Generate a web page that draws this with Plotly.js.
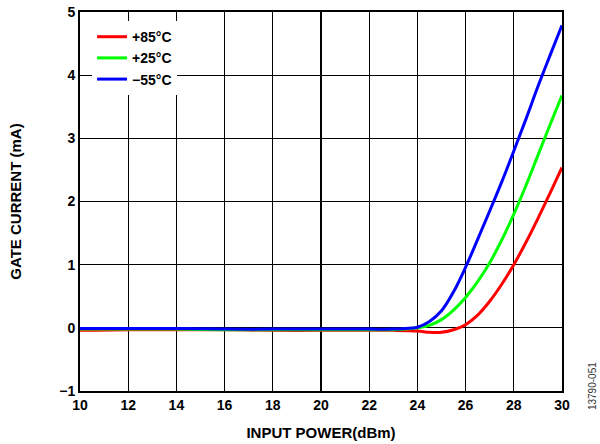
<!DOCTYPE html>
<html>
<head>
<meta charset="utf-8">
<script src="https://cdn.plot.ly/plotly-3.0.1.min.js"></script>
<style>html,body{margin:0;padding:0;background:#fff}#chart{width:600px;height:444px}</style>
</head>
<body>
<div id="chart"></div>
<script>
// Input power (dBm)
const powerRed   = [10, 12, 14, 16, 18, 20, 22, 23, 24, 24.5, 25, 25.5, 26, 26.5, 27, 27.5, 28, 28.5, 29, 29.5, 30];
const current85  = [-0.04, -0.03, -0.03, -0.03, -0.04, -0.04, -0.04, -0.04, -0.05, -0.07, -0.07, -0.03, 0.05, 0.2, 0.42, 0.69, 1.0, 1.35, 1.73, 2.13, 2.54];

const powerGreen = [10, 12, 14, 16, 18, 20, 22, 23, 23.5, 24, 24.5, 25, 25.5, 26, 26.5, 27, 27.5, 28, 28.5, 29, 29.5, 30];
const current25  = [-0.02, -0.02, -0.02, -0.03, -0.03, -0.03, -0.03, -0.03, -0.02, 0.0, 0.04, 0.13, 0.28, 0.48, 0.73, 1.03, 1.39, 1.8, 2.25, 2.73, 3.21, 3.68];

const powerBlue  = [10, 12, 14, 16, 18, 20, 22, 23, 23.5, 24, 24.5, 25, 25.5, 26, 26.5, 27, 27.5, 28, 28.5, 29, 29.5, 30];
const currentM55 = [-0.01, -0.01, -0.01, -0.02, -0.02, -0.02, -0.02, -0.02, -0.01, 0.01, 0.1, 0.27, 0.57, 0.96, 1.4, 1.85, 2.31, 2.8, 3.3, 3.82, 4.31, 4.79];

const seriesNames = ['+85°C', '+25°C', '\u221255°C'];
const seriesColors = ['#ff0000', '#00ff00', '#0000ff'];

const xTicks = [10, 12, 14, 16, 18, 20, 22, 24, 26, 28, 30];
const yTicks = [-1, 0, 1, 2, 3, 4, 5];

const FONT = 'Liberation Sans, Arial, Helvetica, sans-serif';

const xs = [powerRed, powerGreen, powerBlue];
const ys = [current85, current25, currentM55];
const traces = xs.map((x, i) => ({
  x: x, y: ys[i], name: seriesNames[i], type: 'scatter', mode: 'lines',
  line: {color: seriesColors[i], width: 3, shape: 'spline', smoothing: 1}
}));

const layout = {
  width: 600, height: 444,
  margin: {l: 80, r: 38, t: 12, b: 53},
  paper_bgcolor: '#fff', plot_bgcolor: '#fff',
  font: {family: FONT, size: 14, color: '#000', weight: 'bold'},
  showlegend: true,
  legend: {
    x: 0.025, y: 0.976, xanchor: 'left', yanchor: 'top',
    bgcolor: '#fff', borderwidth: 0,
    font: {family: FONT, size: 14, color: '#000', weight: 'bold'},
    tracegroupgap: 0, itemwidth: 30
  },
  xaxis: {
    range: [10, 30], tickvals: xTicks, ticktext: xTicks.map(String),
    showgrid: true, gridcolor: '#000', gridwidth: 1.2,
    zeroline: false, showline: true, linecolor: '#000', linewidth: 2, mirror: true,
    ticks: '', tickfont: {family: FONT, size: 14, color: '#000', weight: 'bold'},
    title: {text: 'INPUT POWER(dBm)', font: {family: FONT, size: 15, color: '#000', weight: 'bold'}, standoff: 16},
    automargin: false
  },
  yaxis: {
    range: [-1, 5], tickvals: yTicks,
    showgrid: true, gridcolor: '#000', gridwidth: 1.2,
    zeroline: false, showline: true, linecolor: '#000', linewidth: 2, mirror: true,
    ticks: '', tickfont: {family: FONT, size: 14, color: '#000', weight: 'bold'},
    title: {text: 'GATE CURRENT (mA)', font: {family: FONT, size: 15, color: '#000', weight: 'bold'}, standoff: 34},
    automargin: false
  },
  annotations: [{
    text: '13790-051', xref: 'paper', yref: 'paper', x: 1, y: 0.013,
    xanchor: 'center', yanchor: 'middle',
    xshift: 30, showarrow: false, textangle: -90,
    font: {family: FONT, size: 10, color: '#333', weight: 'normal'}
  }]
};

Plotly.newPlot('chart', traces, layout, {staticPlot: true, displayModeBar: false});
</script>
</body>
</html>
